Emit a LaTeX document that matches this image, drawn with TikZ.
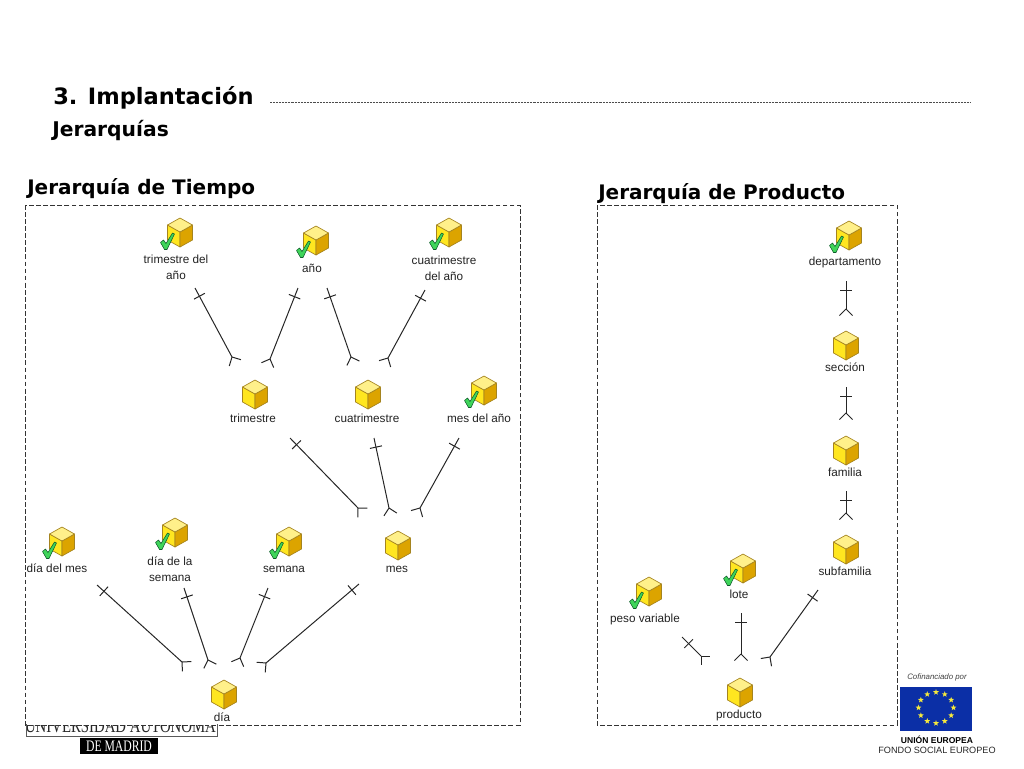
\documentclass[tikz,border=0pt]{standalone}
\usepackage{fontspec}
\setmainfont{Liberation Sans}
\newfontfamily\headfont{DejaVu Sans}
\newfontfamily\logofont{Liberation Serif}
\usetikzlibrary{calc,shapes.geometric}
\definecolor{cubetop}{HTML}{FFF08A}
\definecolor{cubeleft}{HTML}{FFE620}
\definecolor{cuberight}{HTML}{DCA400}
\definecolor{cubeline}{HTML}{A5841F}
\definecolor{tickfill}{HTML}{3FD45A}
\definecolor{tickline}{HTML}{0E5A2A}
\definecolor{eublue}{HTML}{0B2FA6}
\definecolor{eustar}{HTML}{F6E93C}
\definecolor{labelgrey}{HTML}{222222}
\tikzset{
  x=0.75pt,y=-0.75pt,
  lab/.style={font=\fontsize{8.8}{12}\selectfont,text=labelgrey,inner sep=0pt,text height=6.5pt,text depth=2pt,yshift=-0.75pt},
  labtwo/.style={font=\fontsize{8.8}{12}\selectfont,text=labelgrey,align=center,inner sep=0pt,yshift=-0.5pt},
  head/.style={anchor=west,inner sep=0pt,text=black},
  panel/.style={draw=black!80,dash pattern=on 3.6pt off 1.7pt,line width=0.7pt},
  link/.style={draw=black!85,line width=0.75pt},
  cube/.pic={
    \draw[cubeline,line width=0.5pt,fill=cubeleft,line join=round] (-12.5,-7) -- (0,0) -- (0,15) -- (-12.5,8) -- cycle;
    \draw[cubeline,line width=0.5pt,fill=cuberight,line join=round] (12.5,-7) -- (0,0) -- (0,15) -- (12.5,8) -- cycle;
    \draw[cubeline,line width=0.5pt,fill=cubetop,line join=round] (0,-14) -- (12.5,-7) -- (0,0) -- (-12.5,-7) -- cycle;
  },
  tick/.pic={
    \draw[tickline,fill=tickfill,line width=0.4pt,line join=round] (-7,0) -- (-4,-2.5) -- (-1.5,1) -- (5,-9.5) -- (7,-8.5) -- (-0.5,7) -- (-3,7) -- cycle;
  }
}
\newcommand{\conn}[2]{%
  \draw[link] (#1) -- (#2);
  \draw[link] ($(#1)!7pt!(#2)$) -- ($(#1)!7pt!(#2)!4.6pt!90:(#2)$);
  \draw[link] ($(#1)!7pt!(#2)$) -- ($(#1)!7pt!(#2)!4.6pt!-90:(#2)$);
  \draw[link] (#2) -- ($(#2)!7pt!135:(#1)$);
  \draw[link] (#2) -- ($(#2)!7pt!-135:(#1)$);
}
\begin{document}
\begin{tikzpicture}
\useasboundingbox (0,0) rectangle (1024,768);
% header
\node[head,font=\headfont\bfseries\fontsize{16.9}{20}\selectfont] (title) at (53,98) {3. Implantación};
\node[head,font=\headfont\bfseries\fontsize{15.2}{18}\selectfont] (sub) at (52,130) {Jerarquías};
\draw[black!70,line width=0.6pt,dash pattern=on 0.6pt off 0.5pt] (270,102) -- (971,102);
\node[head,font=\headfont\bfseries\fontsize{15}{18}\selectfont] (ttime) at (27,189) {Jerarquía de Tiempo};
\node[head,font=\headfont\bfseries\fontsize{15}{18}\selectfont] (tprod) at (598,194) {Jerarquía de Producto};
% logos
\begin{scope}
\clip (20,725) rectangle (225,737);
\node[inner sep=0pt,anchor=base,font=\logofont\fontsize{15}{17}\selectfont,text=black!85] (uam) at (120.5,732.5) {\scalebox{.74}[1]{UNIVERSIDAD AUTONOMA}};
\end{scope}
\draw[black!65,line width=0.6pt] (26,724) -- (26,736.5) -- (217,736.5) -- (217,724);
\node[fill=black,text=white,minimum width=58.5pt,minimum height=12.5pt,inner sep=0pt,font=\logofont\fontsize{12}{14}\selectfont] (madrid) at (119,746) {\scalebox{.73}[1]{DE MADRID}};
\node[fill=eublue,minimum width=54pt,minimum height=33pt,inner sep=0pt] (flag) at (936,708.5) {};
\foreach \a in {0,30,...,330}
  \node[star,star points=5,star point ratio=2.4,fill=eustar,inner sep=0pt,minimum size=4.6pt] at ($(936,707.7)+(\a:17.5 and 15.5)$) {};
\node[inner sep=0pt,font=\itshape\fontsize{5.9}{7}\selectfont,text=black!75] (cof) at (937,677) {Cofinanciado por};
\node[inner sep=0pt,font=\bfseries\fontsize{6.4}{8}\selectfont,text=black] (ue) at (937,740) {UNIÓN EUROPEA};
\node[inner sep=0pt,font=\fontsize{6.85}{8}\selectfont,text=black!85] (fse) at (937,750) {FONDO SOCIAL EUROPEO};
% panels
\draw[panel] (25,205) rectangle (520,725);
\draw[panel] (597,205) rectangle (897,725);
% cubes
\foreach \x/\y/\c in {180/232/1,316/240/1,449/232/1,255/394/0,368/394/0,484/390/1,62/541/1,175/532/1,289/541/1,398/545/0,224/694/0,849/235/1,846/345/0,846/450/0,846/549/0,743/568/1,649/591/1,740/692/0}{
  \pic at (\x,\y) {cube};
  \ifnum\c=1 \pic at (\x-12.5,\y+10.5) {tick}; \fi
}
% labels
\node[labtwo] (n1) at (176,267) {trimestre del\\año};
\node[lab] (n2) at (312,268) {año};
\node[labtwo] (n3) at (444,268) {cuatrimestre\\del año};
\node[lab] (n4) at (253,418) {trimestre};
\node[lab] (n5) at (367,418) {cuatrimestre};
\node[lab] (n6) at (479,418) {mes del año};
\node[lab] (n7) at (57,568) {día del mes};
\node[labtwo] (n8) at (170,569) {día de la\\semana};
\node[lab] (n9) at (284,568) {semana};
\node[lab] (n10) at (397,568) {mes};
\node[lab] (n11) at (222,717) {día};
\node[lab] (p1) at (845,261) {departamento};
\node[lab] (p2) at (845,367) {sección};
\node[lab] (p3) at (845,472) {familia};
\node[lab] (p4) at (845,571) {subfamilia};
\node[lab] (p5) at (739,594) {lote};
\node[lab] (p6) at (645,618) {peso variable};
\node[lab] (p7) at (739,714) {producto};
% connector ends
\foreach \i/\ax/\ay/\bx/\by in {1/195/288/232/357,2/298/288/270/359,3/327/288/351/357,4/425/290/388/358,5/290/438/358/508,6/374/438/389/508,7/459/438/420/508,8/97/585/182/662,9/184/588/208/660,10/268/588/240/658,11/359/584/266/663,12/846/281/846/309,13/846/387/846/413,14/846/491/846/513,15/818/590/770/657,16/741/613/741/654,17/682/637/701/656}{
  \coordinate (s\i) at (\ax,\ay);
  \coordinate (e\i) at (\bx,\by);
  \conn{s\i}{e\i}
}
\end{tikzpicture}
\end{document}
